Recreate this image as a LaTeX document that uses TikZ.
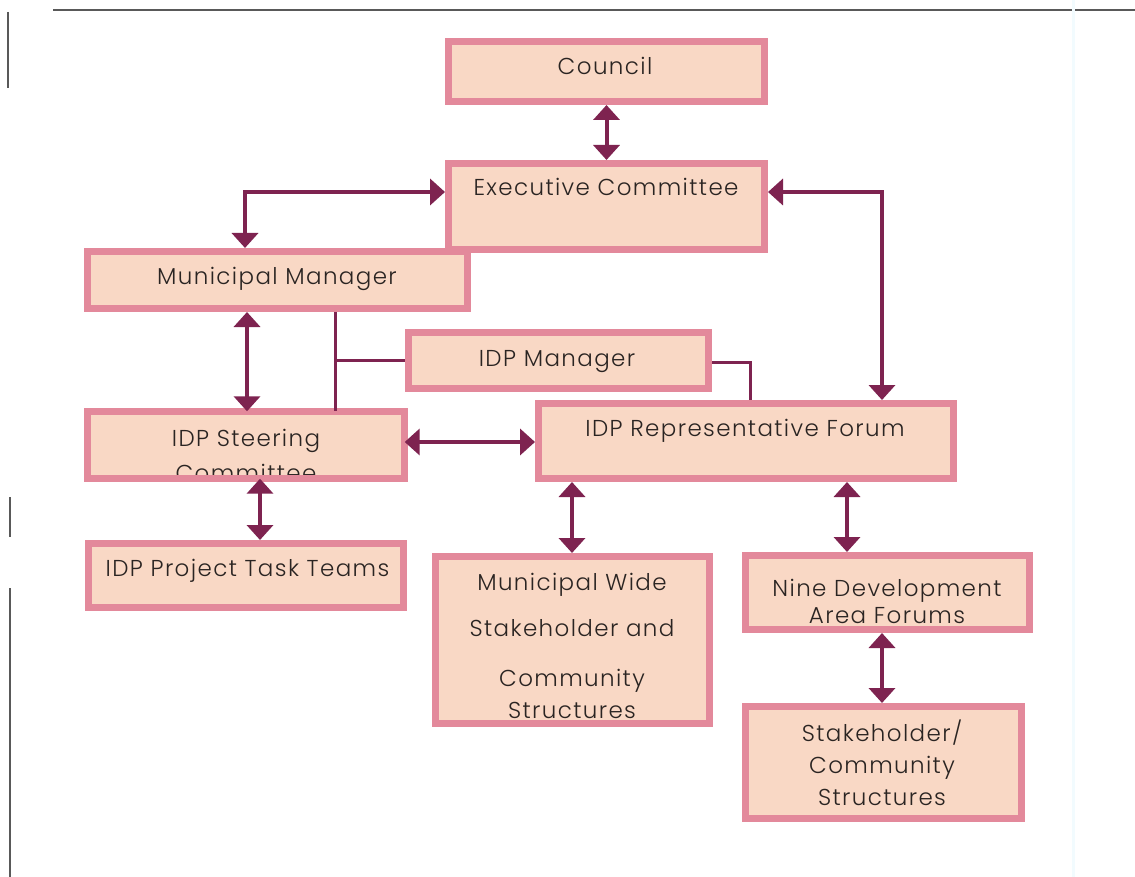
\documentclass[tikz,border=0pt]{standalone}
\usepackage{fontspec}
\setmainfont{Poppins}[LetterSpace=6,UprightFont=* Light]
\usetikzlibrary{arrows.meta}
\definecolor{peach}{HTML}{F9D8C5}
\definecolor{pinkline}{HTML}{E3899B}
\definecolor{maroon}{HTML}{7E2350}
\definecolor{txtc}{HTML}{2A2422}
\tikzset{
  boxfill/.style={rectangle, fill=peach, inner sep=0pt},
  boxline/.style={draw=pinkline, line width=7pt},
  box/.style={boxfill, draw=pinkline, line width=7pt},
  txt/.style={anchor=base, inner sep=0pt, text=txtc, font=\fontsize{23}{28}\selectfont},
  arr/.style={draw=maroon, line width=4pt, {Triangle[length=15pt,width=26pt]}-{Triangle[length=15pt,width=26pt]}},
  conn/.style={draw=maroon, line width=3pt},
  frame/.style={draw=black!65, line width=2pt}
}
\begin{document}
\begin{tikzpicture}[x=1pt,y=-1pt]
\useasboundingbox[fill=white] (0,0) rectangle (1135,877);
% page frame remnants
\draw[frame] (53,10) -- (1135,10);
\draw[frame] (8,12) -- (8,88);
\draw[frame] (10,497) -- (10,537);
\draw[frame] (10,588) -- (10,877);
\draw[draw=cyan!5, line width=3pt] (1073,0) -- (1073,877);
% boxes
\node[box, minimum width=316pt, minimum height=60pt] (co) at (606.5,71.5) {};
\node[box, minimum width=316pt, minimum height=86pt] (ex) at (606.5,206.5) {};
\node[box, minimum width=380pt, minimum height=57pt] (mm) at (277.5,280) {};
\node[box, minimum width=300pt, minimum height=56pt] (idpm) at (558.5,360.5) {};
\node[boxfill, minimum width=317pt, minimum height=67pt] (st) at (246,445) {};
\node[box, minimum width=415pt, minimum height=75pt] (rep) at (746,441) {};
\node[box, minimum width=315pt, minimum height=64pt] (task) at (246,575.5) {};
\node[box, minimum width=274pt, minimum height=167pt] (mw) at (572.5,640) {};
\node[box, minimum width=284pt, minimum height=74pt] (nine) at (887.5,592.5) {};
\node[box, minimum width=276pt, minimum height=112pt] (stk) at (883.5,762.5) {};
% texts
\node[txt] (t1) at (605,75) {Council};
\node[txt] (t2) at (606,196) {Executive Committee};
\node[txt] (t3) at (277,285) {Municipal Manager};
\node[txt] (t4) at (557,366) {IDP Manager};
\node[txt] (t5) at (246,446) {IDP Steering};
\node[txt] (t6) at (246,481) {Committee};
\draw[boxline] (st.south west) rectangle (st.north east);
\node[txt] (t7) at (745,436) {IDP Representative Forum};
\node[txt] (t8) at (247.5,576) {IDP Project Task Teams};
\node[txt] (t9) at (572,590) {Municipal Wide};
\node[txt] (t10) at (572,636) {Stakeholder and};
\node[txt] (t11) at (572,686) {Community};
\node[txt] (t12) at (572,718) {Structures};
\node[txt] (t13) at (887,596) {Nine Development};
\node[txt] (t14) at (887,623) {Area Forums};
\node[txt] (t15) at (882,741) {Stakeholder/};
\node[txt] (t16) at (882,773) {Community};
\node[txt] (t17) at (882,805) {Structures};
% connectors
\draw[arr] (co.south) -- (ex.north);
\draw[arr] ([yshift=14.5pt]ex.west) -| ([xshift=-32.5pt]mm.north);
\draw[arr] ([yshift=14.5pt]ex.east) -| ([xshift=136pt]rep.north);
\coordinate (a1) at ([xshift=-30.5pt]mm.south);
\draw[arr] (a1) -- (a1 |- st.north);
\coordinate (b1) at ([xshift=57.5pt]mm.south);
\draw[conn] (b1) -- (b1 |- st.north);
\draw[conn] (b1 |- idpm.west) -- (idpm.west);
\draw[conn] ([yshift=-2pt]idpm.east) -| ([xshift=4pt]rep.north);
\coordinate (c1) at ([yshift=3pt]st.east);
\draw[arr] (c1) -- (c1 -| rep.west);
\coordinate (d1) at ([xshift=14pt]st.south);
\draw[arr] (d1) -- (d1 |- task.north);
\coordinate (e1) at ([xshift=-174pt]rep.south);
\draw[arr] (e1) -- (e1 |- mw.north);
\coordinate (f1) at ([xshift=101pt]rep.south);
\draw[arr] (f1) -- (f1 |- nine.north);
\coordinate (g1) at ([xshift=-5.5pt]nine.south);
\draw[arr] (g1) -- (g1 |- stk.north);
\end{tikzpicture}
\end{document}
